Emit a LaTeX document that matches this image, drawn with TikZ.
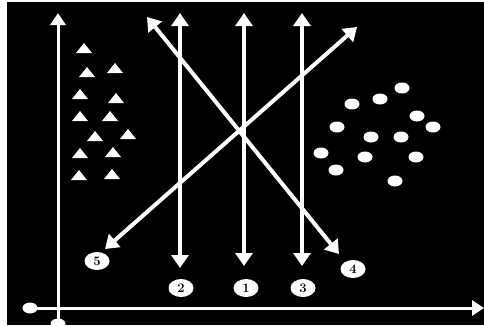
\documentclass[tikz,border=0pt]{standalone}
\usepackage{tikz}
\usetikzlibrary{arrows.meta, shapes.geometric}

\begin{document}
\begin{tikzpicture} [x = 1pt, y = -1pt,
    tip/.tip = {Triangle[width=17pt, length=13pt]},
    ray/.style = {white, line width = 4pt, tip-tip},
    axis/.style = {white, line width = 3pt, -{Triangle[width=15pt, length=12pt]}},
    num/.style = {ellipse, fill = white, minimum width = 25pt, minimum height = 18pt,
        inner sep = 0pt, font = \fontsize{13}{13}\selectfont\bfseries},
    spot/.style = {ellipse, fill = white, minimum width = 15pt, minimum height = 11pt, inner sep = 0pt}]

        \useasboundingbox (0,0) rectangle (484,325);
        \fill [white] (0,0) rectangle (484,325);
        \fill [black] (7,2) rectangle (484,325);

        \node (o1) [spot] at (30,308) {}; \node (o2) [spot] at (58,324) {};
        \coordinate (xe) at (484,308); \coordinate (ye) at (58,13);
        \draw [axis] (o1.center) -- (xe); \draw [axis] (o2.center) -- (ye);

        \coordinate (t2) at (180,13); \coordinate (b2) at (180,268);
        \coordinate (t1) at (244,13); \coordinate (b1) at (244,266);
        \coordinate (t3) at (302,13); \coordinate (b3) at (302,266);
        \coordinate (t4) at (147,17); \coordinate (b4) at (339,254);
        \coordinate (t5) at (357,27); \coordinate (b5) at (105,249);

        \node (n2) [num] at (181,288) {2}; \node (n1) [num] at (246,288) {1};
        \node (n3) [num] at (303,288) {3}; \node (n4) [num] at (353,269) {4};
        \node (n5) [num] at (97,261) {5};

        \foreach \i in {2,1,3,4,5} \draw [ray] (t\i) -- (b\i);

        \foreach \x/\y in {84/48, 87/72, 115/68, 80/94, 116/98, 80/116, 110/116,
            95/136, 128/134, 80/153, 113/152, 79/175, 112/174}
            \fill [white] (\x-8,\y+5) -- (\x,\y-5) -- (\x+8,\y+5) -- cycle;

        \foreach \x/\y [count=\k] in {402/88, 380/99, 352/104, 417/116, 433/127, 337/127,
            371/137, 401/137, 321/153, 365/157, 416/157, 336/170, 395/181}
            \node (c\k) [spot] at (\x,\y) {};

    \end{tikzpicture}
\end{document}
